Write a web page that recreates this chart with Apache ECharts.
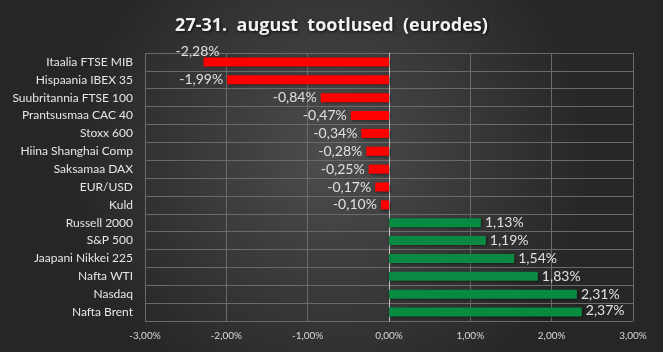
<!DOCTYPE html>
<html>
<head>
<meta charset="utf-8">
<script src="https://cdn.jsdelivr.net/npm/echarts@6/dist/echarts.min.js"></script>
<style>
    html, body { margin: 0; padding: 0; background: #2b2b2b; }
    #chart { width: 663px; height: 352px; }
</style>
</head>
<body>
<div id="chart"></div>
<script>
// andmed
var categories = ['Itaalia FTSE MIB', 'Hispaania IBEX 35', 'Suubritannia FTSE 100', 'Prantsusmaa CAC 40',
    'Stoxx 600', 'Hiina Shanghai Comp', 'Saksamaa DAX', 'EUR/USD', 'Kuld', 'Russell 2000', 'S&P 500',
    'Jaapani Nikkei 225', 'Nafta WTI', 'Nasdaq', 'Nafta Brent'];
var values = [-2.28, -1.99, -0.84, -0.47, -0.34, -0.28, -0.25, -0.17, -0.10, 1.13, 1.19, 1.54, 1.83, 2.31, 2.37];
var axisMin = -3, axisMax = 3, axisStep = 1;

function pct(v) {
    return v.toFixed(2).replace('.', ',') + '%';
}

var font = 'Lato, "Open Sans", sans-serif';

var barData = values.map(function (v, i) {
    var item = {
        value: v,
        itemStyle: { color: v < 0 ? '#ff0000' : '#088a43' },
        label: { position: v < 0 ? 'left' : 'right' }
    };
    if (i === 0) item.label.offset = [20, -10]; // esimene silt tulba kohal
    if (i === values.length - 1) item.label.offset = [0, -2];
    return item;
});

var myChart = echarts.init(document.getElementById('chart'));
var option = {
    backgroundColor: {
        type: 'radial', x: 0.5, y: 0.45, r: 0.75,
        colorStops: [{ offset: 0, color: '#4d4d4d' }, { offset: 1, color: '#262626' }]
    },
    title: {
        text: '27-31.  august  tootlused  (eurodes)',
        left: 'center',
        top: 12,
        textStyle: {
            color: '#f2f2f2', fontSize: 18, fontWeight: 'bold', fontFamily: '"Open Sans", Lato, sans-serif',
            textShadowColor: 'rgba(0,0,0,0.8)', textShadowBlur: 3, textShadowOffsetX: 1, textShadowOffsetY: 1
        }
    },
    grid: { left: 145, right: 30, top: 53, bottom: 31 },
    xAxis: {
        type: 'value',
        min: axisMin, max: axisMax, interval: axisStep,
        axisLine: { show: false },
        axisTick: { show: false },
        axisLabel: { color: '#d9d9d9', fontSize: 10, fontFamily: font, margin: 10, formatter: pct },
        splitLine: { lineStyle: { color: '#6a6a6a', width: 1 } }
    },
    yAxis: {
        type: 'category',
        data: categories,
        inverse: true,
        axisLine: { show: true, onZero: true, lineStyle: { color: '#bfbfbf', width: 1 } },
        axisTick: { show: false },
        axisLabel: { color: '#e6e6e6', fontSize: 12, fontFamily: font, margin: 12 },
        splitLine: { show: true, lineStyle: { color: '#6a6a6a', width: 1 } }
    },
    series: [{
        type: 'bar',
        data: barData,
        barWidth: 9,
        itemStyle: { shadowColor: 'rgba(0,0,0,0.55)', shadowBlur: 3, shadowOffsetX: 1, shadowOffsetY: 1 },
        label: {
            show: true,
            color: '#e0e0e0',
            fontSize: 14,
            fontFamily: font,
            distance: 4,
            formatter: function (p) { return pct(p.value); }
        }
    }]
};
myChart.setOption(option);
</script>
</body>
</html>
